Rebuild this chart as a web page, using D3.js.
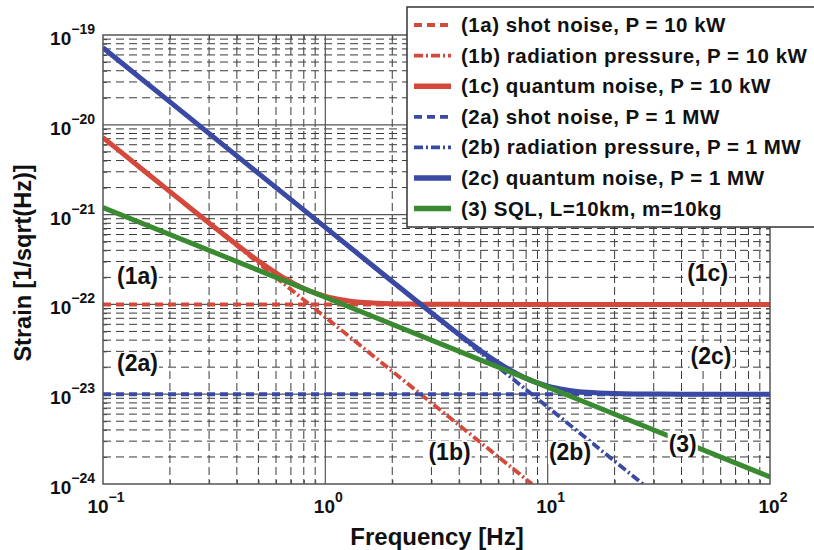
<!DOCTYPE html>
<html><head><meta charset="utf-8">
<script src="https://cdn.jsdelivr.net/npm/d3@7"></script>
<style>
html,body{margin:0;padding:0;background:#fff;}
svg text{font-family:"Liberation Sans",Arial,Helvetica,sans-serif;font-weight:bold;fill:#111;}
</style></head>
<body>
<svg id="chart" width="814" height="550"></svg>
<script>
// ---- data ----
const xTickValues = [0.1, 1, 10, 100];
const xTickExponents = ["\u22121", "0", "1", "2"];
const yTickValues = [1e-24, 1e-23, 1e-22, 1e-21, 1e-20, 1e-19];
const yTickExponents = ["\u221224", "\u221223", "\u221222", "\u221221", "\u221220", "\u221219"];

const shot10kW = [[0.1, 1e-22], [100, 1e-22]];
const rad10kW = [[0.1, 7.2e-21], [1, 7.2e-23], [8.5, 1.0e-24]];
const quant10kW = [[0.1, 7.2e-21], [0.15, 3.2e-21], [0.2, 1.8e-21], [0.25, 1.156e-21], [0.3, 8.06e-22], [0.35, 5.96e-22],
  [0.4, 4.61e-22], [0.45, 3.69e-22], [0.5, 3.05e-22], [0.55, 2.58e-22], [0.6, 2.24e-22], [0.65, 1.976e-22], [0.7, 1.78e-22],
  [0.75, 1.624e-22], [0.8, 1.5e-22], [0.85, 1.41e-22], [0.9, 1.34e-22], [1, 1.23e-22], [1.1, 1.164e-22], [1.2, 1.12e-22],
  [1.3, 1.087e-22], [1.5, 1.05e-22], [1.7, 1.031e-22], [2, 1.016e-22], [2.5, 1.0066e-22], [3, 1.003e-22], [4, 1.001e-22],
  [5, 1.0e-22], [100, 1.0e-22]];
const shot1MW = [[0.1, 1e-23], [100, 1e-23]];
const rad1MW = [[0.1, 7.2e-20], [1, 7.2e-22], [26.8, 1.0e-24]];
const quant1MW = [[0.1, 7.2e-20], [0.2, 1.8e-20], [0.5, 2.88e-21], [1, 7.2e-22], [1.5, 3.2e-22], [2, 1.8e-22], [2.5, 1.156e-22],
  [3, 8.06e-23], [3.5, 5.96e-23], [4, 4.61e-23], [4.5, 3.69e-23], [5, 3.05e-23], [5.5, 2.58e-23], [6, 2.24e-23], [6.5, 1.976e-23],
  [7, 1.78e-23], [7.5, 1.624e-23], [8, 1.5e-23], [8.5, 1.41e-23], [9, 1.34e-23], [10, 1.23e-23], [11, 1.164e-23], [12, 1.12e-23],
  [13, 1.087e-23], [15, 1.05e-23], [17, 1.031e-23], [20, 1.016e-23], [25, 1.0066e-23], [30, 1.003e-23], [40, 1.001e-23],
  [50, 1.0e-23], [100, 1.0e-23]];
const sql = [[0.1, 1.2e-21], [1, 1.2e-22], [10, 1.2e-23], [100, 1.2e-24]];

const seriesNames = ["(1a) shot noise, P = 10 kW", "(1b) radiation pressure, P = 10 kW", "(1c) quantum noise, P = 10 kW",
  "(2a) shot noise, P = 1 MW", "(2b) radiation pressure, P = 1 MW", "(2c) quantum noise, P = 1 MW", "(3) SQL, L=10km, m=10kg"];

const annotations = [
  {t: "(1a)", f: 0.143, h: 1.69e-22}, {t: "(2a)", f: 0.143, h: 1.81e-23},
  {t: "(1c)", f: 52.4, h: 1.82e-22}, {t: "(2c)", f: 54.3, h: 2.17e-23},
  {t: "(1b)", f: 3.62, h: 1.85e-24}, {t: "(2b)", f: 12.6, h: 1.85e-24}, {t: "(3)", f: 40.5, h: 2.27e-24}
];

// ---- styles ----
const RED = "#d4493b", BLUE = "#3a49a3", GREEN = "#3a8a31";
const styles = [
  {c: RED, w: 4, dash: "8,5"}, {c: RED, w: 3.8, dash: "9,3,2,3"}, {c: RED, w: 5, dash: null},
  {c: BLUE, w: 4, dash: "8,5"}, {c: BLUE, w: 3.8, dash: "9,3,2,3"}, {c: BLUE, w: 5, dash: null},
  {c: GREEN, w: 5, dash: null}
];
const seriesData = [shot10kW, rad10kW, quant10kW, shot1MW, rad1MW, quant1MW, sql];

const L = 103, R = 770, T = 35, B = 484;
const svg = d3.select("#chart");
const x = d3.scaleLog().domain([0.1, 100]).range([L, R]);
const y = d3.scaleLog().domain([1e-24, 1e-19]).range([B, T]);

// minor/major values
const minorX = [], minorY = [];
for (let d = -1; d < 2; d++) for (let k = 2; k <= 9; k++) minorX.push(k * Math.pow(10, d));
for (let d = -24; d < -19; d++) for (let k = 2; k <= 9; k++) minorY.push(k * Math.pow(10, d));

const grid = svg.append("g");
grid.selectAll(".vmin").data(minorX).join("line")
  .attr("x1", d => x(d)).attr("x2", d => x(d)).attr("y1", T).attr("y2", B)
  .attr("stroke", "#3a3a3a").attr("stroke-width", 1).attr("stroke-dasharray", "8,4");
grid.selectAll(".hmin").data(minorY).join("line")
  .attr("y1", d => y(d)).attr("y2", d => y(d)).attr("x1", L).attr("x2", R)
  .attr("stroke", "#3a3a3a").attr("stroke-width", 1).attr("stroke-dasharray", "8,5");
grid.selectAll(".vmaj").data(xTickValues.slice(1, -1)).join("line")
  .attr("x1", d => x(d)).attr("x2", d => x(d)).attr("y1", T).attr("y2", B)
  .attr("stroke", "#555").attr("stroke-width", 1.2);
grid.selectAll(".hmaj").data(yTickValues.slice(1, -1)).join("line")
  .attr("y1", d => y(d)).attr("y2", d => y(d)).attr("x1", L).attr("x2", R)
  .attr("stroke", "#555").attr("stroke-width", 1.2);

// axes with inward ticks
const axG = svg.append("g");
const mkAxis = (ax, vals, size) => ax.tickValues(vals).tickSize(size).tickFormat("");
axG.append("g").attr("transform", `translate(0,${B})`).call(mkAxis(d3.axisBottom(x), minorX, -4));
axG.append("g").attr("transform", `translate(0,${T})`).call(mkAxis(d3.axisTop(x), minorX, -4));
axG.append("g").attr("transform", `translate(${L},0)`).call(mkAxis(d3.axisLeft(y), minorY, -4));
axG.append("g").attr("transform", `translate(${R},0)`).call(mkAxis(d3.axisRight(y), minorY, -4));
axG.selectAll(".domain").remove();
axG.selectAll(".tick line").attr("stroke", "#444");

// curves
svg.append("clipPath").attr("id", "clip").append("rect").attr("x", L).attr("y", T).attr("width", R - L).attr("height", B - T);
const line = d3.line().x(d => x(d[0])).y(d => y(d[1])).curve(d3.curveMonotoneX);
const curves = svg.append("g").attr("clip-path", "url(#clip)");
seriesData.forEach((s, i) => {
  curves.append("path").datum(s).attr("d", line).attr("fill", "none")
    .attr("stroke", styles[i].c).attr("stroke-width", styles[i].w)
    .attr("stroke-dasharray", styles[i].dash).attr("stroke-linejoin", "round");
});

// frame
svg.append("rect").attr("x", L).attr("y", T).attr("width", R - L).attr("height", B - T)
  .attr("fill", "none").attr("stroke", "#555").attr("stroke-width", 1.5);

// annotations with white background
const ann = svg.append("g");
annotations.forEach(a => {
  const g = ann.append("g");
  const t = g.append("text").attr("x", x(a.f)).attr("y", y(a.h)).attr("text-anchor", "middle")
    .attr("font-size", 23).text(a.t);
  const bb = t.node().getBBox();
  g.insert("rect", "text").attr("x", bb.x - 1).attr("y", bb.y + 2).attr("width", bb.width + 2).attr("height", bb.height - 3)
    .attr("fill", "#fff");
});

// tick labels
const tl = svg.append("g");
yTickValues.forEach((v, i) => {
  const t = tl.append("text").attr("x", 95).attr("y", y(v) + 10).attr("text-anchor", "end").attr("font-size", 19);
  t.append("tspan").text("10");
  t.append("tspan").attr("dy", -11).attr("font-size", 14).text(yTickExponents[i]);
});
xTickValues.forEach((v, i) => {
  const t = tl.append("text").attr("x", x(v) + 3).attr("y", 513).attr("text-anchor", "middle").attr("font-size", 19);
  t.append("tspan").text("10");
  t.append("tspan").attr("dy", -11).attr("font-size", 14).text(xTickExponents[i]);
});

// axis titles
svg.append("text").attr("x", 437).attr("y", 545).attr("text-anchor", "middle").attr("font-size", 24).text("Frequency [Hz]");
svg.append("text").attr("transform", "translate(31,263) rotate(-90)").attr("text-anchor", "middle")
  .attr("font-size", 23.5).text("Strain [1/sqrt(Hz)]");

// legend
const lg = svg.append("g");
lg.append("rect").attr("x", 407).attr("y", 7).attr("width", 410).attr("height", 220)
  .attr("fill", "#fff").attr("stroke", "#333").attr("stroke-width", 1.5);
seriesNames.forEach((n, i) => {
  const cy = 25 + i * 30.6;
  lg.append("line").attr("x1", 414).attr("x2", 451).attr("y1", cy).attr("y2", cy)
    .attr("stroke", styles[i].c).attr("stroke-width", styles[i].dash ? 3.8 : 5.5)
    .attr("stroke-dasharray", styles[i].dash);
  lg.append("text").attr("x", 461).attr("y", cy + 7).attr("font-size", 20.5).attr("letter-spacing", 0.5).text(n);
});
</script>
</body></html>
